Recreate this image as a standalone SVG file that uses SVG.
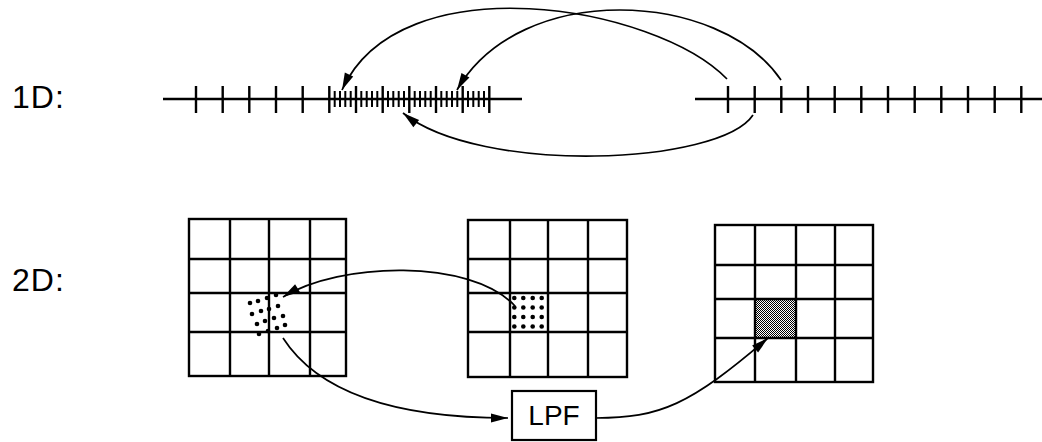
<svg xmlns="http://www.w3.org/2000/svg" width="1042" height="442" viewBox="0 0 1042 442">
<defs>
<style>
.lbl{font-family:"Liberation Sans",Arial,sans-serif;font-size:32px;letter-spacing:1px;fill:#000}
.axis{stroke:#000;stroke-width:2.6;fill:none}
.tick{stroke:#000;stroke-width:2.4;fill:none}
.minor{stroke:#000;stroke-width:2;fill:none}
.grid{stroke:#000;stroke-width:2.4;fill:none}
.conn{stroke:#000;stroke-width:1.7;fill:none;marker-end:url(#ah)}
.dot{fill:#000}
</style>
<marker id="ah" markerUnits="userSpaceOnUse" markerWidth="19" markerHeight="11" viewBox="-18 -5.5 19 11" refX="0" refY="0" orient="auto">
<path d="M0,0 L-17,-4.6 L-17,4.6 Z" fill="#000"/>
</marker>
<pattern id="chk" width="2" height="2" patternUnits="userSpaceOnUse">
<rect width="2" height="2" fill="#fff"/>
<rect width="1" height="1" fill="#000"/>
<rect x="1" y="1" width="1" height="1" fill="#000"/>
</pattern>
</defs>
<rect width="1042" height="442" fill="#fff"/>

<g id="label-1d"><text class="lbl" x="12" y="108">1D:</text></g>
<g id="label-2d"><text class="lbl" x="12" y="291">2D:</text></g>

<g id="line-1d-dense">
<path class="axis" d="M163,99 H522"/>
<path class="tick" d="M196,86V113M222.7,86V113M249.3,86V113M276,86V113M302.7,86V113M329.3,86V113M356,86V113M382.7,86V113M409.3,86V113M436,86V113M462.7,86V113M489.3,86V113"/>
<path class="minor" d="M334.7,91V107M340,91V107M345.3,91V107M350.7,91V107M361.3,91V107M366.7,91V107M372,91V107M377.3,91V107M388,91V107M393.3,91V107M398.7,91V107M404,91V107M414.7,91V107M420,91V107M425.3,91V107M430.7,91V107M441.3,91V107M446.7,91V107M452,91V107M457.3,91V107M468,91V107M473.3,91V107M478.7,91V107M484,91V107"/>
</g>

<g id="line-1d-sparse">
<path class="axis" d="M695,99 H1042"/>
<path class="tick" d="M728,86V113M754.7,86V113M781.3,86V113M808,86V113M834.7,86V113M861.3,86V113M888,86V113M914.7,86V113M941.3,86V113M968,86V113M994.7,86V113M1021.3,86V113"/>
</g>

<g id="grid-left">
<rect class="grid" x="189" y="219" width="157" height="157"/>
<path class="grid" d="M230,219V376M269,219V376M310,219V376M189,259H346M189,293H346M189,332H346"/>
<g class="dot">
<circle cx="250" cy="303" r="2.3"/><circle cx="258" cy="301" r="2.3"/><circle cx="267" cy="298" r="2.3"/><circle cx="276" cy="295" r="2.3"/>
<circle cx="252" cy="314" r="2.3"/><circle cx="261" cy="311" r="2.3"/><circle cx="269" cy="309" r="2.3"/><circle cx="278" cy="306" r="2.3"/>
<circle cx="257" cy="324" r="2.3"/><circle cx="265" cy="321" r="2.3"/><circle cx="274" cy="318" r="2.3"/><circle cx="283" cy="316" r="2.3"/>
<circle cx="259" cy="334" r="2.3"/><circle cx="268" cy="331" r="2.3"/><circle cx="277" cy="328" r="2.3"/><circle cx="285" cy="325" r="2.3"/>
</g>
</g>

<g id="grid-middle">
<rect class="grid" x="468" y="220" width="159" height="157"/>
<path class="grid" d="M510,220V377M548,220V377M588,220V377M468,259H627M468,293H627M468,332H627"/>
<g class="dot">
<circle cx="514.3" cy="298" r="2.3"/><circle cx="523.3" cy="298" r="2.3"/><circle cx="532.7" cy="298" r="2.3"/><circle cx="541.7" cy="298" r="2.3"/>
<circle cx="514.3" cy="307.5" r="2.3"/><circle cx="523.3" cy="307.5" r="2.3"/><circle cx="532.7" cy="307.5" r="2.3"/><circle cx="541.7" cy="307.5" r="2.3"/>
<circle cx="514.3" cy="317" r="2.3"/><circle cx="523.3" cy="317" r="2.3"/><circle cx="532.7" cy="317" r="2.3"/><circle cx="541.7" cy="317" r="2.3"/>
<circle cx="514.3" cy="326.5" r="2.3"/><circle cx="523.3" cy="326.5" r="2.3"/><circle cx="532.7" cy="326.5" r="2.3"/><circle cx="541.7" cy="326.5" r="2.3"/>
</g>
</g>

<g id="grid-right">
<rect x="755" y="299" width="41" height="39" fill="url(#chk)"/>
<rect class="grid" x="715" y="225" width="158" height="157"/>
<path class="grid" d="M755,225V382M796,225V382M835,225V382M715,265H873M715,299H873M715,338H873"/>
</g>

<g id="lpf">
<rect x="512" y="391" width="84" height="49" fill="#fff" stroke="#000" stroke-width="2.2"/>
<text x="554" y="425" text-anchor="middle" font-family="Liberation Sans, Arial, sans-serif" font-size="28" fill="#000">LPF</text>
</g>

<g id="connectors">
<path class="conn" d="M727,79 C655,5 400,-38 342,90"/>
<path class="conn" d="M781,80 C720,-10 520,-20 457,90"/>
<path class="conn" d="M753,115 C720,165 480,175 403,113"/>
<path class="conn" d="M515,306 C470,258 340,262 283,297"/>
<path class="conn" d="M283,338 C310,380 370,418 508,418"/>
<path class="conn" d="M596,418 C660,418 690,405 768,338"/>
</g>
</svg>
